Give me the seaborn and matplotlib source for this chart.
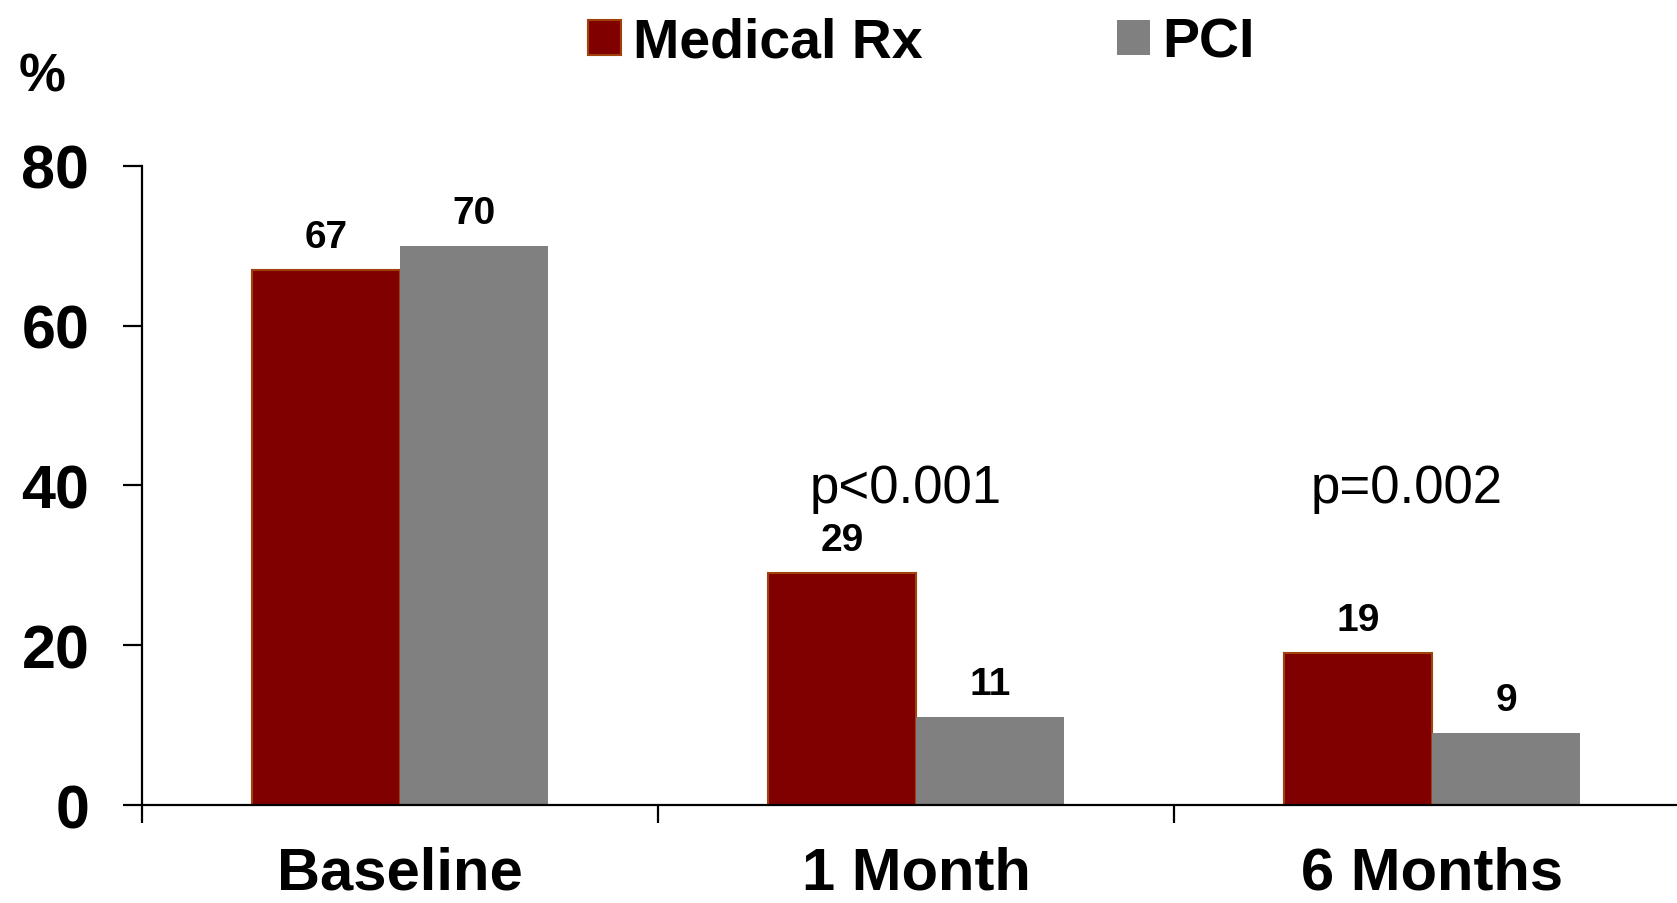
import matplotlib
matplotlib.use("Agg")
import matplotlib.pyplot as plt
import matplotlib.font_manager as fm
import seaborn as sns
import pandas as pd

# Data
timepoints = ["Baseline", "1 Month", "6 Months"]
groups = ["Medical Rx", "PCI"]
medical_rx = [67, 29, 19]
pci = [70, 11, 9]
p_labels = ["p<0.001", "p=0.002"]
p_positions = [0.98, 1.95]
y_ticks = [0, 20, 40, 60, 80]

colors = {"Medical Rx": "#800000", "PCI": "#808080"}
edge_rx = "#A0400A"

df = pd.DataFrame({
    "Timepoint": timepoints * 2,
    "Group": [groups[0]] * len(timepoints) + [groups[1]] * len(timepoints),
    "Value": medical_rx + pci,
})

sns.set_style("white")
plt.rcParams["font.family"] = ["Liberation Sans", "DejaVu Sans"]
plt.rcParams.update({
    "text.color": "black",
    "axes.labelcolor": "black",
    "xtick.color": "black",
    "ytick.color": "black",
})

fig = plt.figure(figsize=(16.77, 9.04), dpi=100)
ax = fig.add_axes([0.0847, 0.1084, 0.9231, 0.7069])

sns.barplot(data=df, x="Timepoint", y="Value", hue="Group", order=timepoints,
            hue_order=groups, palette=colors, width=0.575, gap=0,
            saturation=1, ax=ax, legend=True)

# Thin brown outline on the Medical Rx bars only
for bar in ax.containers[0]:
    bar.set_edgecolor(edge_rx)
    bar.set_linewidth(1.5)
for bar in ax.containers[1]:
    bar.set_edgecolor("none")

# Value labels above bars
for cont in ax.containers:
    ax.bar_label(cont, fmt="%d", padding=11, fontsize=28, fontweight="bold",
                 color="black")

# p-value annotations
for xpos, txt in zip(p_positions, p_labels):
    ax.text(xpos, 37.9, txt, ha="center", va="baseline", fontsize=38,
            color="black")

ax.set_xlim(-0.5, 2.5)
ax.set_ylim(0, 80)
ax.set_yticks(y_ticks)
ax.set_yticklabels([str(v) for v in y_ticks])
ax.tick_params(axis="y", direction="out", length=14, width=1.6, pad=24,
               labelsize=44, left=True, colors="black")
for lbl in ax.get_yticklabels():
    lbl.set_fontweight("bold")

ax.set_xticks(range(len(timepoints)))
ax.set_xticklabels(timepoints, fontsize=43, fontweight="bold")
ax.set_xticks([-0.5, 0.5, 1.5, 2.5], minor=True)
ax.tick_params(axis="x", which="major", length=0, pad=29, colors="black")
ax.tick_params(axis="x", which="minor", direction="out", length=13,
               width=1.6, bottom=True, colors="black")

ax.set_xlabel("")
ax.set_ylabel("")
for side in ["top", "right"]:
    ax.spines[side].set_visible(False)
for side in ["left", "bottom"]:
    ax.spines[side].set_color("black")
    ax.spines[side].set_linewidth(1.6)

fig.text(19 / 1677, 1 - 78 / 904, "%", ha="left", va="center", fontsize=38,
         fontweight="bold", color="black")

handles, labels = ax.get_legend_handles_labels()
ax.legend_.remove()
for h in handles:
    h.set_edgecolor("none")
handles[0].set_edgecolor(edge_rx)
handles[0].set_linewidth(1.5)
leg = fig.legend(handles, labels, loc="upper left",
                 bbox_to_anchor=(588 / 1677, 1 - 18 / 904),
                 ncol=2, frameon=False, borderpad=0, borderaxespad=0,
                 handlelength=0.59, handleheight=0.59, handletextpad=0.22,
                 columnspacing=3.5,
                 prop=fm.FontProperties(family=["Liberation Sans", "DejaVu Sans"],
                                        weight="bold", size=40))
for t in leg.get_texts():
    t.set_color("black")

fig.savefig("out.png", dpi=100)
